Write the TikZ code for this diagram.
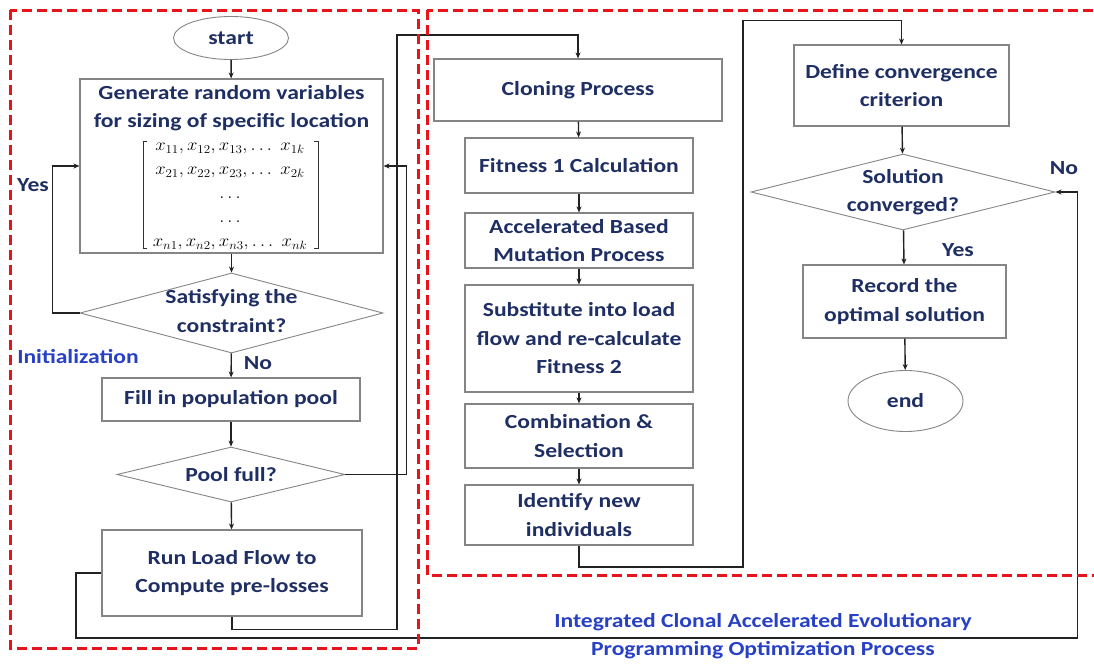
\documentclass[tikz,border=0pt]{standalone}
\usepackage{fontspec}
\setmainfont{Carlito}[FakeStretch=1.18]
\usetikzlibrary{arrows.meta,shapes.geometric}
\definecolor{navy}{HTML}{1F2F63}
\definecolor{lblue}{HTML}{2740C4}
\definecolor{rred}{HTML}{E8141B}
\definecolor{bgray}{HTML}{858585}
\definecolor{lnk}{HTML}{222222}
\begin{document}
\begin{tikzpicture}[x=1pt,y=-1pt,
  txt/.style={text=navy,font=\fontsize{20}{28.5}\selectfont\bfseries,align=center,inner sep=0pt},
  lbl/.style={text=navy,font=\fontsize{20}{28}\selectfont\bfseries,inner sep=0pt},
  blbl/.style={text=lblue,font=\fontsize{20}{28}\selectfont\bfseries,inner sep=0pt},
  box/.style={draw=bgray,line width=1.1pt,rectangle,inner sep=0pt,txt},
  dia/.style={draw=bgray,line width=0.9pt,diamond,inner sep=0pt},
  oval/.style={draw=bgray,line width=0.9pt,ellipse,inner sep=0pt,txt},
  arr/.style={draw=lnk,line width=1.4pt,-{Stealth[length=6pt,width=5pt]}},
  brk/.style={draw=black!80,line width=0.8pt},
  region/.style={draw=rred,line width=3pt,dash pattern=on 10pt off 5pt}]
\useasboundingbox (0,0) rectangle (1094,664);
\fill[white] (0,0) rectangle (1094,664);

% left column
\node[oval,minimum width=115,minimum height=43] (start) at (231,38) {start};
\node[box,minimum width=303,minimum height=174] (gen) at (231.5,166) {};
\node[txt] (genhead) at (231.5,108) {Generate random variables\\for sizing of specific location};
\node[inner sep=0pt,font=\fontsize{18}{24}\selectfont] (mat) at (230,194)
  {\scalebox{1.08}[1]{$\begin{array}{@{}c@{}}
    x_{11},x_{12},x_{13},\dots\ x_{1k}\\
    x_{21},x_{22},x_{23},\dots\ x_{2k}\\
    \dots\\
    \dots\\
    x_{n1},x_{n2},x_{n3},\dots\ x_{nk}
  \end{array}$}};
\draw[brk] ([shift={(-83,-53)}]mat.center) -- ++(-4,0) -- ++(0,107) -- ++(4,0);
\draw[brk] ([shift={(84,-53)}]mat.center) -- ++(4,0) -- ++(0,107) -- ++(-4,0);
\node[dia,minimum width=303,minimum height=80] (sat) at (231.5,313) {};
\node[txt] (sattxt) at (231.5,311) {Satisfying the\\constraint?};
\node[box,minimum width=258,minimum height=43] (fill) at (231,399.5) {Fill in population pool};
\node[dia,minimum width=228,minimum height=55] (pool) at (231,474.5) {};
\node[txt] (pooltxt) at (231,474.5) {Pool full?};
\node[box,minimum width=260,minimum height=86] (run) at (232,573) {Run Load Flow to\\Compute pre-losses};

% middle column
\node[box,minimum width=288,minimum height=62] (clone) at (578,90) {Cloning Process};
\node[box,minimum width=228,minimum height=55] (fit1) at (579,165.5) {Fitness 1 Calculation};
\node[box,minimum width=228,minimum height=55] (acc) at (579,240.5) {Accelerated Based\\Mutation Process};
\node[box,minimum width=228,minimum height=107] (sub) at (579,338.5) {Substitute into load\\flow and re-calculate\\Fitness 2};
\node[box,minimum width=228,minimum height=64] (comb) at (579,436) {Combination \&\\Selection};
\node[box,minimum width=228,minimum height=60] (ident) at (579,515) {Identify new\\individuals};

% right column
\node[box,minimum width=215,minimum height=81] (def) at (901.5,85.5) {Define convergence\\criterion};
\node[dia,minimum width=304,minimum height=76] (sol) at (903,192) {};
\node[txt] (soltxt) at (903,192) {Solution\\converged?};
\node[box,minimum width=203,minimum height=73] (rec) at (904.5,301.5) {Record the\\optimal solution};
\node[oval,minimum width=115,minimum height=61] (end) at (905.5,401) {end};

% labels
\node[lbl] (yes1) at (33,185) {Yes};
\node[lbl] (no1) at (258,363) {No};
\node[blbl] (init) at (78,357) {Initialization};
\node[lbl] (no2) at (1064,168) {No};
\node[lbl] (yes2) at (958,250) {Yes};
\node[blbl] (title1) at (763,622) {Integrated Clonal Accelerated Evolutionary};
\node[blbl] (title2) at (763,650) {Programming Optimization Process};

% connectors
\draw[arr] (start) -- (gen);
\draw[arr] (gen) -- (sat);
\draw[arr] (sat.west) -- ++(-27,0) |- (gen.west);
\draw[arr] (sat) -- (fill);
\draw[arr] (fill) -- (pool);
\draw[arr] (pool) -- (run);
\draw[arr] (pool.east) -| ([xshift=23pt]gen.east) -- (gen.east);
\draw[arr] (run.south) -- ++(0,13) -| (397,35) -| (clone.north);
\draw[arr] (run.west) -| (76,638) -| ([xshift=22pt]sol.east) -- (sol.east);
\draw[arr] (clone) -- (fit1);
\draw[arr] (fit1) -- (acc);
\draw[arr] (acc) -- (sub);
\draw[arr] (sub) -- (comb);
\draw[arr] (comb) -- (ident);
\draw[arr] (ident.south) |- (743,567) |- ([yshift=24pt]def.north) -- (def.north);
\draw[arr] (def) -- (sol);
\draw[arr] (sol) -- (rec);
\draw[arr] (rec) -- (end);

% regions
\draw[region] (10,10) rectangle (418,648);
\draw[region] (427,10) rectangle (1110,575);
\end{tikzpicture}
\end{document}
